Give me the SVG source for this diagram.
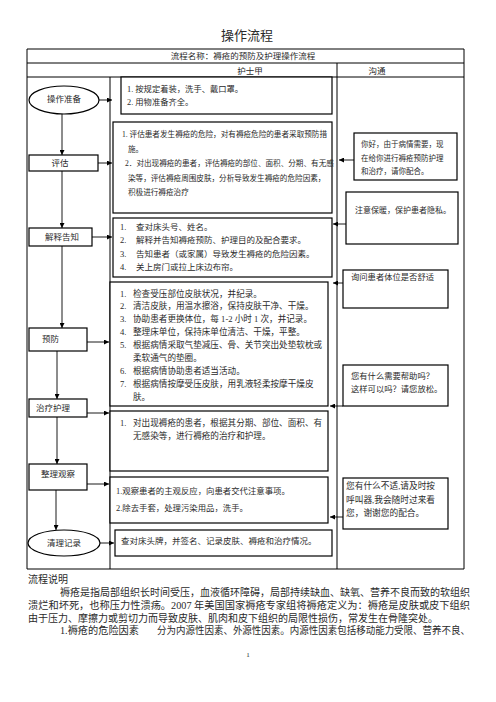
<svg xmlns="http://www.w3.org/2000/svg" width="496" height="702" viewBox="0 0 496 702">
<style>
.t{font-family:"Liberation Serif","Noto Sans CJK SC",serif;fill:#2a2a2a}
.tl{fill:none;stroke:#000;stroke-width:1}
.bx{fill:#fff;stroke:#000;stroke-width:1.2}
.cn{fill:none;stroke:#000;stroke-width:0.9}
</style>
<defs>
<marker id="ah" viewBox="0 0 10 10" refX="10" refY="5" markerWidth="6" markerHeight="5" orient="auto" markerUnits="userSpaceOnUse">
<path d="M0,0 L10,5 L0,10 z" fill="#000"/>
</marker>
</defs>
<rect width="496" height="702" fill="#fff"/>
<text class="t" x="247" y="40" font-size="13" text-anchor="middle">操作流程</text>
<g id="table">
<path class="tl" d="M27,49H464M27,63H464M27,77H464M27,569H464M27,49V569M464,49V569M110,77V569M337,63V569"/>
<text class="t" x="243" y="59" font-size="8.5" text-anchor="middle">流程名称：褥疮的预防及护理操作流程</text>
<text class="t" x="250" y="73.5" font-size="8.5" text-anchor="middle">护士甲</text>
<text class="t" x="377" y="74" font-size="8.5" text-anchor="middle">沟通</text>
</g>
<g id="n-prep"><ellipse class="bx" cx="64" cy="100" rx="35" ry="14"/><text class="t" x="64" y="101.5" font-size="8.5" text-anchor="middle">操作准备</text></g>
<g id="n-assess"><rect class="bx" x="29" y="155" width="69" height="16"/><text class="t" x="60" y="166" font-size="8.5" text-anchor="middle">评估</text></g>
<g id="n-explain"><rect class="bx" x="29" y="228" width="63" height="18"/><text class="t" x="62" y="240" font-size="8.5" text-anchor="middle">解释告知</text></g>
<g id="n-prevent"><rect class="bx" x="29" y="328" width="58" height="23"/><text class="t" x="42" y="342" font-size="8.5">预防</text></g>
<g id="n-treat"><rect class="bx" x="29" y="399" width="58" height="18"/><text class="t" x="36" y="411" font-size="8.5">治疗护理</text></g>
<g id="n-observe"><rect class="bx" x="29" y="464" width="58" height="26"/><text class="t" x="41" y="477" font-size="8.5">整理观察</text></g>
<g id="n-record"><ellipse class="bx" cx="64" cy="543" rx="36" ry="13"/><text class="t" x="64" y="546" font-size="8.5" text-anchor="middle">清理记录</text></g>

<g id="b-prep"><rect class="bx" x="121" y="77" width="211" height="37"/>
<text class="t" font-size="8.3"><tspan x="127" y="92">1. 按规定着装，洗手、戴口罩。</tspan><tspan x="127" y="105">2. 用物准备齐全。</tspan></text></g>
<g id="b-assess"><rect class="bx" x="113" y="122" width="219" height="91"/>
<text class="t" font-size="7.6"><tspan x="122" y="137">1. 评估患者发生褥疮的危险，对有褥疮危险的患者采取预防措</tspan><tspan x="128" y="152">施。</tspan><tspan x="125" y="166">2．对出现褥疮的患者，评估褥疮的部位、面积、分期、有无感</tspan><tspan x="128" y="181">染等，评估褥疮周围皮肤，分析导致发生褥疮的危险因素，</tspan><tspan x="128" y="195">积极进行褥疮治疗</tspan></text></g>
<g id="b-explain"><rect class="bx" x="113" y="218" width="219" height="59"/>
<text class="t" font-size="8.5"><tspan x="120" y="230">1.</tspan><tspan x="136" y="230">查对床头号、姓名。</tspan><tspan x="120" y="243">2.</tspan><tspan x="136" y="243">解释并告知褥疮预防、护理目的及配合要求。</tspan><tspan x="120" y="256.5">3.</tspan><tspan x="136" y="256.5">告知患者（或家属）导致发生褥疮的危险因素。</tspan><tspan x="120" y="270">4.</tspan><tspan x="136" y="270">关上房门或拉上床边布帘。</tspan></text></g>
<g id="b-prevent"><rect class="bx" x="110" y="282" width="218" height="124"/>
<text class="t" font-size="8.6"><tspan x="120" y="296.5">1.</tspan><tspan x="133" y="296.5">检查受压部位皮肤状况，并纪录。</tspan><tspan x="120" y="309.4">2.</tspan><tspan x="133" y="309.4">清洁皮肤，用温水擦浴，保持皮肤干净、干燥。</tspan><tspan x="120" y="322.3">3.</tspan><tspan x="133" y="322.3">协助患者更换体位，每 1-2 小时 1 次，并记录。</tspan><tspan x="120" y="335.2">4.</tspan><tspan x="133" y="335.2">整理床单位，保持床单位清洁、干燥，平整。</tspan><tspan x="120" y="348.1">5.</tspan><tspan x="133" y="348.1">根据病情采取气垫减压、骨、关节突出处垫软枕或</tspan><tspan x="133" y="361">柔软通气的垫圈。</tspan><tspan x="120" y="373.9">6.</tspan><tspan x="133" y="373.9">根据病情协助患者适当活动。</tspan><tspan x="120" y="386.8">7.</tspan><tspan x="133" y="386.8">根据病情按摩受压皮肤，用乳液轻柔按摩干燥皮</tspan><tspan x="133" y="399.7">肤。</tspan></text></g>
<g id="b-treat"><rect class="bx" x="110" y="411" width="218" height="60"/>
<text class="t" font-size="8.6"><tspan x="120" y="426">1.</tspan><tspan x="133" y="426">对出现褥疮的患者，根据其分期、部位、面积、有</tspan><tspan x="133" y="438.5">无感染等，进行褥疮的治疗和护理。</tspan></text></g>
<g id="b-observe"><rect class="bx" x="110" y="477" width="218" height="46"/>
<text class="t" font-size="8.4"><tspan x="116" y="494">1.观察患者的主观反应，向患者交代注意事项。</tspan><tspan x="116" y="511">2.除去手套，处理污染用品，洗手。</tspan></text></g>
<g id="b-record"><rect class="bx" x="115" y="530" width="217" height="26"/>
<text class="t" x="121" y="544" font-size="8.5">查对床头牌，并签名、记录皮肤、褥疮和治疗情况。</text></g>

<g id="c-greet"><rect class="bx" x="354" y="133" width="103" height="47"/>
<text class="t" font-size="7.5"><tspan x="361" y="147">你好，由于病情需要，现</tspan><tspan x="361" y="161">在给你进行褥疮预防护理</tspan><tspan x="361" y="174">和治疗，请你配合。</tspan></text></g>
<g id="c-warm"><rect class="bx" x="346" y="192" width="112" height="52"/>
<text class="t" x="355" y="213" font-size="8">注意保暖，保护患者隐私。</text></g>
<g id="c-ask"><rect class="bx" x="343" y="270" width="105" height="38"/>
<text class="t" x="351" y="280" font-size="8.3">询问患者体位是否舒适</text></g>
<g id="c-help"><rect class="bx" x="343" y="365" width="105" height="41"/>
<text class="t" font-size="8.3"><tspan x="351" y="379">您有什么需要帮助吗？</tspan><tspan x="351" y="392">这样可以吗？请您放松。</tspan></text></g>
<g id="c-call"><rect class="bx" x="343" y="478" width="105" height="51"/>
<text class="t" font-size="8.7"><tspan x="346" y="489">您有什么不适,请及时按</tspan><tspan x="346" y="503">呼叫器,我会随时过来看</tspan><tspan x="346" y="516">您，谢谢您的配合。</tspan></text></g>

<g id="connectors">
<path class="cn" marker-end="url(#ah)" d="M62,114V155"/>
<path class="cn" marker-end="url(#ah)" d="M62,171V228"/>
<path class="cn" marker-end="url(#ah)" d="M62,246V328"/>
<path class="cn" marker-end="url(#ah)" d="M57,351V399"/>
<path class="cn" marker-end="url(#ah)" d="M57,417V464"/>
<path class="cn" marker-end="url(#ah)" d="M56,490V530"/>
<path class="cn" marker-end="url(#ah)" d="M99,100H112"/>
<path class="cn" marker-end="url(#ah)" d="M98,163H112"/>
<path class="cn" marker-end="url(#ah)" d="M92,237H112"/>
<path class="cn" marker-end="url(#ah)" d="M87,342H109"/>
<path class="cn" marker-end="url(#ah)" d="M87,413H109"/>
<path class="cn" marker-end="url(#ah)" d="M87,484H109"/>
<path class="cn" marker-end="url(#ah)" d="M100,543H114"/>
<path class="cn" marker-end="url(#ah)" d="M354,160H339"/>
<path class="cn" marker-end="url(#ah)" d="M346,224H333"/>
<path class="cn" marker-end="url(#ah)" d="M343,283H333"/>
<path class="cn" marker-end="url(#ah)" d="M343,406H330"/>
<path class="cn" marker-end="url(#ah)" d="M343,517H330"/>
</g>

<text class="t" x="28" y="582.5" font-size="10">流程说明</text>
<text class="t" x="60" y="596" font-size="10.2" textLength="410" lengthAdjust="spacingAndGlyphs">褥疮是指局部组织长时间受压，血液循环障碍，局部持续缺血、缺氧、营养不良而致的软组织</text>
<text class="t" x="28" y="609" font-size="10.2" textLength="442" lengthAdjust="spacingAndGlyphs">溃烂和坏死，也称压力性溃疡。2007 年美国国家褥疮专家组将褥疮定义为：褥疮是皮肤或皮下组织</text>
<text class="t" x="28" y="622" font-size="10.2" textLength="410" lengthAdjust="spacingAndGlyphs">由于压力、摩擦力或剪切力而导致皮肤、肌肉和皮下组织的局限性损伤，常发生在骨隆突处。</text>
<text class="t" x="60" y="634" font-size="10.2">1.褥疮的危险因素</text>
<text class="t" x="157" y="634" font-size="10.2" textLength="313" lengthAdjust="spacingAndGlyphs">分为内源性因素、外源性因素。内源性因素包括移动能力受限、营养不良、</text>
<text class="t" x="248" y="657" font-size="7" text-anchor="middle">1</text>
</svg>
